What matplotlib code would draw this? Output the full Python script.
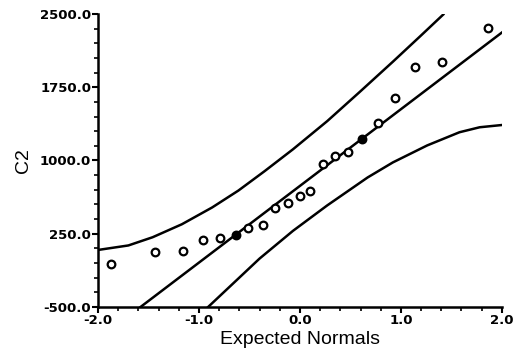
import matplotlib
matplotlib.use("Agg")
import matplotlib.pyplot as plt
from matplotlib.ticker import MultipleLocator, FormatStrFormatter

plt.rcParams['axes.unicode_minus'] = False

expected = [-1.87, -1.44, -1.16, -0.96, -0.79, -0.63, -0.51, -0.37, -0.25, -0.12, 0.0,
            0.10, 0.23, 0.35, 0.48, 0.61, 0.77, 0.94, 1.14, 1.41, 1.86]
c2 = [-60, 63, 73, 186, 207, 237, 309, 340, 514, 565, 637,
      688, 964, 1046, 1087, 1220, 1384, 1640, 1958, 2009, 2357]
# points that sit on the reference line are drawn filled
filled = [5, 15]

# reference line
line_intercept = 740
line_slope = 785
line_x = [-1.58, 2.0]

# confidence band curves
upper_x = [-2.0, -1.70, -1.46, -1.17, -0.87, -0.61, -0.35, -0.07, 0.27, 0.59, 0.92, 1.19, 1.42]
upper_y = [84, 130, 214, 347, 519, 692, 891, 1114, 1403, 1700, 2011, 2271, 2495]
lower_x = [-0.91, -0.40, -0.07, 0.27, 0.67, 0.92, 1.26, 1.58, 1.78, 2.0]
lower_y = [-500, -4, 279, 540, 826, 980, 1154, 1289, 1340, 1363]

fig = plt.figure(figsize=(5.19, 3.58), dpi=100)
ax = fig.add_axes([0.189, 0.1425, 0.778, 0.8185])

ax.plot(upper_x, upper_y, color='black', lw=1.8)
ax.plot(lower_x, lower_y, color='black', lw=1.8)
ax.plot(line_x, [line_intercept + line_slope * v for v in line_x], color='black', lw=1.8)

for i, (xv, yv) in enumerate(zip(expected, c2)):
    face = 'black' if i in filled else 'white'
    ax.plot(xv, yv, 'o', ms=5.5, mfc=face, mec='black', mew=1.6, zorder=3)

ax.set_xlim(-2.0, 2.0)
ax.set_ylim(-500, 2500)
ax.xaxis.set_major_locator(MultipleLocator(1.0))
ax.xaxis.set_minor_locator(MultipleLocator(0.2))
ax.yaxis.set_major_locator(MultipleLocator(750, offset=250))
ax.yaxis.set_minor_locator(MultipleLocator(150, offset=100))
ax.xaxis.set_major_formatter(FormatStrFormatter('%.1f'))
ax.yaxis.set_major_formatter(FormatStrFormatter('%.1f'))

for s in ['top', 'right']:
    ax.spines[s].set_visible(False)
for s in ['left', 'bottom']:
    ax.spines[s].set_linewidth(1.8)

ax.tick_params(which='major', direction='out', length=4, width=1.5, pad=1)
ax.tick_params(which='minor', direction='out', length=3, width=1.2)
for lab in ax.get_xticklabels() + ax.get_yticklabels():
    lab.set_fontfamily('DejaVu Sans')
    lab.set_fontweight('bold')
    lab.set_fontsize(9.5)

ax.set_xlabel('Expected Normals', fontsize=14, family='Liberation Sans', labelpad=3)
ax.set_ylabel('C2', fontsize=14, family='Liberation Sans', labelpad=6)

fig.savefig('out.png', dpi=100)
